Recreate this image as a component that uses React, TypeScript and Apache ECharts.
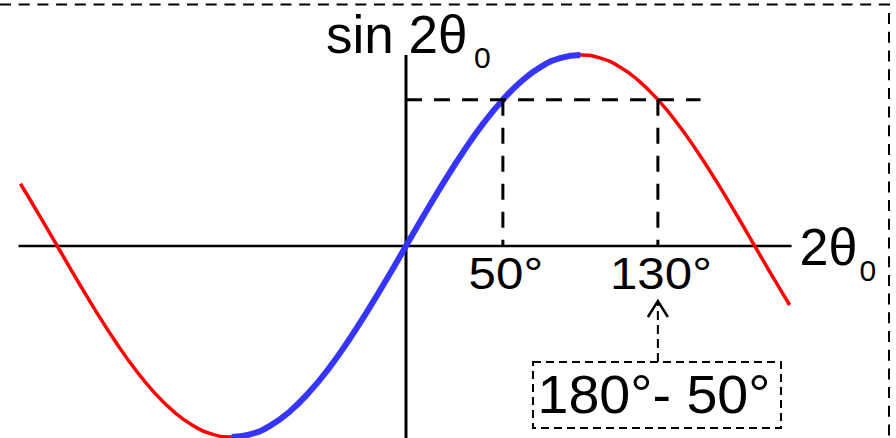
import React, { useEffect, useRef } from "react";
import * as echarts from "echarts";

// Sampled curve: angle 2θ0 in degrees and sin 2θ0
const ANGLES = [
  -199, -190, -180, -170, -160, -150, -140, -130, -120, -110, -100, -90, -80, -70, -60, -50, -40, -30,
  -20, -10, 0, 10, 20, 30, 40, 50, 60, 70, 80, 90, 100, 110, 120, 130, 140, 150, 160, 170, 180, 190, 198,
];
const SIN_VALUES = [
  0.326, 0.174, 0, -0.174, -0.342, -0.5, -0.643, -0.766, -0.866, -0.94, -0.985, -1, -0.985, -0.94, -0.866,
  -0.766, -0.643, -0.5, -0.342, -0.174, 0, 0.174, 0.342, 0.5, 0.643, 0.766, 0.866, 0.94, 0.985, 1, 0.985,
  0.94, 0.866, 0.766, 0.643, 0.5, 0.342, 0.174, 0, -0.174, -0.309,
];
// Highlighted branch (rising part of the curve)
const HIGHLIGHT_RANGE = [-90, 90];

// Marked angles and their labels
const MARKED_ANGLES = [50, 130];
const MARKED_LABELS = ["50°", "130°"];
const GUIDE_LEVEL = 0.766; // sin 50° = sin 130°
const GUIDE_END = 152;

// Axis extents
const X_AXIS_RANGE = [-200, 199];
const Y_AXIS_RANGE = [-1.02, 1.0];

const Y_TITLE = "sin 2θ";
const X_TITLE = "2θ";
const SUBSCRIPT = "0";
const NOTE = "180°- 50°";

const W = 896;
const H = 438;
const ORIGIN_X = 406;
const ORIGIN_Y = 246;
const PX_PER_DEG = 1.9375;
const PX_PER_UNIT = 191;

const FONT = '"Liberation Sans", Arial, sans-serif';

export default function App() {
  const ref = useRef<HTMLDivElement>(null);

  useEffect(() => {
    if (!ref.current) return;
    const chart = echarts.init(ref.current, null, { renderer: "svg" });

    const curve = ANGLES.map((a, i) => [a, SIN_VALUES[i]]);
    const highlight = curve.filter(([a]) => a >= HIGHLIGHT_RANGE[0] && a <= HIGHLIGHT_RANGE[1]);

    const plain = (
      data: number[][],
      color: string,
      width: number,
      dash?: number[],
      z = 2,
      smooth: boolean | number = false
    ) => ({
      type: "line",
      data,
      symbol: "none",
      silent: true,
      smooth,
      z,
      lineStyle: { color, width, type: dash ? dash : "solid", cap: "butt" },
    });

    const series: any[] = [
      plain([[X_AXIS_RANGE[0], 0], [X_AXIS_RANGE[1], 0]], "#000", 2.5, undefined, 1),
      plain([[0, Y_AXIS_RANGE[0]], [0, Y_AXIS_RANGE[1]]], "#000", 3, undefined, 1),
      plain(curve, "#ff0000", 3.5, undefined, 2, 0.5),
      plain(highlight, "#3535ff", 6, undefined, 3, 0.5),
      plain([[0, GUIDE_LEVEL], [GUIDE_END, GUIDE_LEVEL]], "#000", 3, [16, 12], 4),
      ...MARKED_ANGLES.map((a) => plain([[a, GUIDE_LEVEL], [a, 0]], "#000", 3, [16, 12], 4)),
    ];

    chart.setOption({
      animation: false,
      backgroundColor: "#fff",
      grid: { left: 0, right: 0, top: 0, bottom: 0, containLabel: false },
      xAxis: {
        type: "value",
        min: -ORIGIN_X / PX_PER_DEG,
        max: (W - ORIGIN_X) / PX_PER_DEG,
        show: false,
      },
      yAxis: {
        type: "value",
        min: -(H - ORIGIN_Y) / PX_PER_UNIT,
        max: ORIGIN_Y / PX_PER_UNIT,
        show: false,
      },
      series,
    });

    const px = (x: number, y: number) => chart.convertToPixel({ gridIndex: 0 }, [x, y]) as number[];
    const origin = px(0, 0);
    const yTop = px(0, Y_AXIS_RANGE[1]);
    const xEnd = px(X_AXIS_RANGE[1], 0);
    const ticks = MARKED_ANGLES.map((a) => px(a, 0));
    const arrowX = ticks[1][0];

    const text = (t: string, x: number, y: number, size: number, align: string, scaleX = 1) => ({
      type: "text",
      x,
      y,
      scaleX,
      z: 10,
      style: {
        text: t,
        font: `${size}px ${FONT}`,
        fill: "#000",
        align,
        verticalAlign: "middle",
      },
    });

    const graphic: any[] = [
      // frame
      {
        type: "polyline",
        shape: { points: [[0, 4.5], [889, 4.5], [889, H]] },
        style: { stroke: "#000", lineWidth: 2, lineDash: [11, 7.7], fill: "none" },
      },
      // axis titles
      text(Y_TITLE, yTop[0] - 80, yTop[1] - 21, 53, "left"),
      text(SUBSCRIPT, yTop[0] + 68, yTop[1] + 2, 30, "left"),
      text(X_TITLE, xEnd[0] + 8, origin[1] + 0.5, 52, "left"),
      text(SUBSCRIPT, xEnd[0] + 68, origin[1] + 24, 30, "left"),
      // tick labels
      ...ticks.map((p, i) => text(MARKED_LABELS[i], p[0] + 3, p[1] + 27.5, 44, "center", 1.12)),
      // note arrow
      {
        type: "line",
        shape: { x1: arrowX, y1: 362, x2: arrowX, y2: 303 },
        style: { stroke: "#000", lineWidth: 2, lineDash: [9, 5] },
      },
      {
        type: "polyline",
        shape: { points: [[arrowX - 10, 317], [arrowX, 301], [arrowX + 10, 317]] },
        style: { stroke: "#000", lineWidth: 2.5, fill: "none" },
      },
      // note box
      {
        type: "rect",
        shape: { x: 533, y: 362, width: 248, height: 66 },
        style: { stroke: "#000", lineWidth: 2, lineDash: [8, 5], fill: "#fff" },
        z: 9,
      },
      text(NOTE, 654, 394.5, 54, "center", 1.03),
    ];

    chart.setOption({ graphic });

    return () => chart.dispose();
  }, []);

  return (
    <div
      ref={ref}
      style={{ position: "absolute", left: 0, top: 0, width: W, height: H }}
    />
  );
}
